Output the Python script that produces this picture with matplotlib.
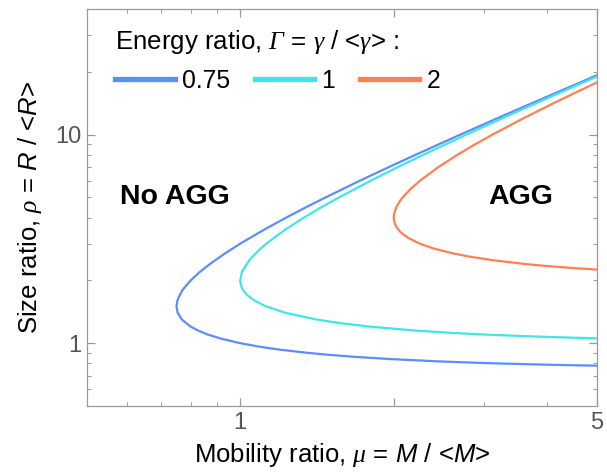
import matplotlib
matplotlib.use("Agg")
import matplotlib.pyplot as plt
from matplotlib.ticker import FixedLocator, NullFormatter

plt.rcParams['font.family'] = ['Liberation Sans', 'DejaVu Sans']
plt.rcParams['mathtext.fontset'] = 'custom'
plt.rcParams['mathtext.rm'] = 'Liberation Serif:italic'
plt.rcParams['mathtext.it'] = 'Liberation Serif:italic'
plt.rcParams['mathtext.sf'] = 'Liberation Sans:italic'

# energy ratio values (legend entries)
gammas = ["0.75", "1", "2"]
colors = ["#5c8df8", "#40e6e6", "#ff8050"]

# boundary curves: size ratio rho and mobility ratio mu
rho_075 = [0.78, 0.785, 0.79, 0.8, 0.81, 0.82, 0.84, 0.86, 0.88, 0.9, 0.93, 0.96, 1.0,
           1.05, 1.1, 1.15, 1.2, 1.3, 1.4, 1.5, 1.6, 1.7, 1.8, 1.9, 2.0, 2.2, 2.4, 2.7,
           3.0, 3.5, 4.0, 4.5, 5.0, 6.0, 7.0, 8.0, 10.0, 12.0, 14.0, 16.0, 18.0, 19.22]
mu_075 = [5.07, 4.402, 3.90, 3.20, 2.734, 2.401, 1.96, 1.681, 1.489, 1.35, 1.201, 1.097,
          1.0, 0.919, 0.864, 0.827, 0.8, 0.768, 0.754, 0.75, 0.753, 0.761, 0.771, 0.785,
          0.8, 0.834, 0.873, 0.935, 1.0, 1.114, 1.231, 1.35, 1.471, 1.714, 1.96, 2.207,
          2.703, 3.2, 3.698, 4.197, 4.696, 5.0]

rho_1 = [1.055, 1.06, 1.07, 1.08, 1.1, 1.12, 1.15, 1.2, 1.25, 1.3, 1.4, 1.5, 1.6, 1.7,
         1.8, 1.9, 2.0, 2.2, 2.5, 2.8, 3.0, 3.5, 4.0, 4.5, 5.0, 6.0, 7.0, 8.0, 10.0,
         12.0, 14.0, 16.0, 18.0, 19.0]
mu_1 = [5.06, 4.682, 4.089, 3.645, 3.025, 2.613, 2.204, 1.8, 1.5625, 1.408, 1.225,
        1.125, 1.067, 1.032, 1.0125, 1.003, 1.0, 1.008, 1.042, 1.089, 1.125, 1.225,
        1.333, 1.446, 1.5625, 1.8, 2.042, 2.286, 2.778, 3.273, 3.769, 4.267, 4.765, 5.014]

rho_2 = [2.24, 2.26, 2.3, 2.35, 2.4, 2.5, 2.6, 2.7, 2.85, 3.0, 3.2, 3.4, 3.6, 3.8, 4.0,
         4.2, 4.5, 4.8, 5.0, 5.5, 6.0, 7.0, 8.0, 9.0, 10.0, 12.0, 14.0, 16.0, 18.0]
mu_2 = [5.227, 4.911, 4.408, 3.945, 3.6, 3.125, 2.817, 2.604, 2.389, 2.25, 2.133, 2.064,
        2.025, 2.006, 2.0, 2.005, 2.025, 2.057, 2.083, 2.161, 2.25, 2.45, 2.667, 2.893,
        3.125, 3.6, 4.083, 4.571, 5.0625]

curves = [(mu_075, rho_075), (mu_1, rho_1), (mu_2, rho_2)]

fig = plt.figure(figsize=(6.07, 4.72), dpi=100)
ax = fig.add_axes([0.1428, 0.1398, 0.8402, 0.8412])

lines = []
for (mu, rho), c, g in zip(curves, colors, gammas):
    l, = ax.plot(mu, rho, color=c, lw=1.6, label=g)
    lines.append(l)

ax.set_xscale('log')
ax.set_yscale('log')
ax.set_xlim(0.5, 5)
ax.set_ylim(0.5, 40)

ax.xaxis.set_major_locator(FixedLocator([1, 2, 5]))
ax.set_xticklabels(['1', '', '5'])
ax.xaxis.set_minor_locator(FixedLocator([0.6, 0.7, 0.8, 0.9, 3, 4]))
ax.xaxis.set_minor_formatter(NullFormatter())
ax.yaxis.set_major_locator(FixedLocator([1, 10]))
ax.set_yticklabels(['1', '10'])
ax.yaxis.set_minor_locator(FixedLocator([0.6, 0.7, 0.8, 0.9, 2, 3, 4, 5, 6, 7, 8, 9, 20, 30]))
ax.yaxis.set_minor_formatter(NullFormatter())

ax.tick_params(which='both', direction='in', top=True, right=True, color='#999999')
ax.tick_params(which='major', length=6, width=0.9, labelsize=17, labelcolor='#555555', pad=4)
ax.tick_params(which='minor', length=3, width=0.7)
for s in ax.spines.values():
    s.set_color('#999999')
    s.set_linewidth(0.9)

ax.set_xlabel(r"Mobility ratio, $\mu$ = $\mathsf{M}$ / <$\mathsf{M}$>", fontsize=18.5, labelpad=5)
ax.set_ylabel(r"Size ratio, $\rho$ = $\mathsf{R}$ / <$\mathsf{R}$>", fontsize=18.5, labelpad=8)

ax.text(0.743, 5.0, "No AGG", fontsize=20.5, fontweight='bold', ha='center', va='center')
ax.text(3.55, 5.0, "AGG", fontsize=20.5, fontweight='bold', ha='center', va='center')

leg = ax.legend(handles=lines, ncol=3, loc='upper left', frameon=False,
                title=r"Energy ratio, $\Gamma$ = $\gamma$ / <$\gamma$> :",
                fontsize=17.8, title_fontsize=18.6, handlelength=2.4, handletextpad=0.3,
                columnspacing=1.0, borderaxespad=0.3, labelspacing=0.5,
                bbox_to_anchor=(0.022, 0.995))
leg._legend_box.align = 'left'
for h in leg.legend_handles:
    h.set_linewidth(3.8)

fig.savefig("out.png", dpi=100)
